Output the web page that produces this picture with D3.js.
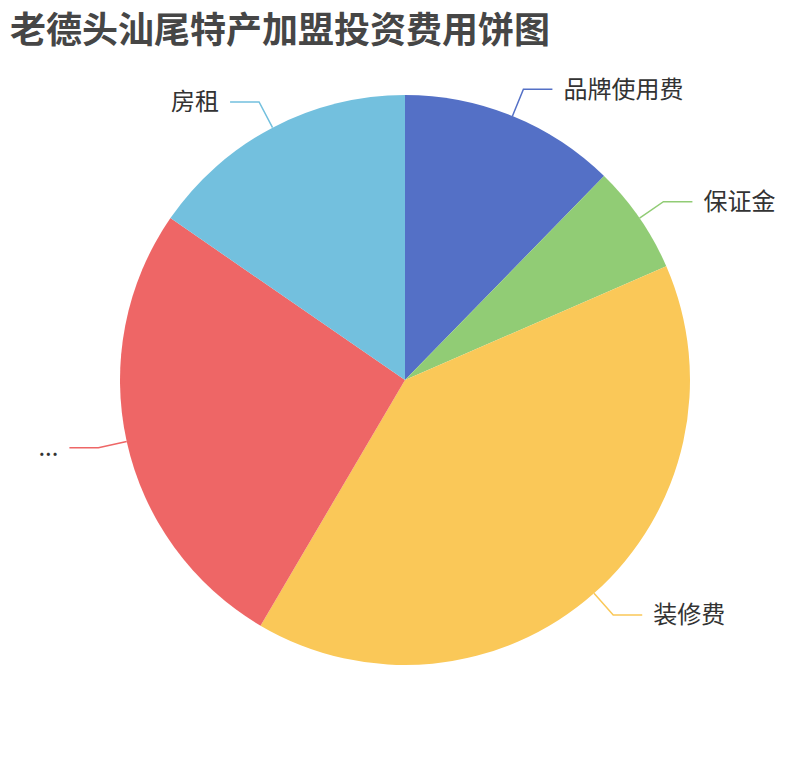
<!DOCTYPE html>
<html>
<head>
<meta charset="utf-8">
<script src="https://cdn.jsdelivr.net/npm/d3@7"></script>
<style>
  body { margin: 0; background: #fff; }
  svg { display: block; font-family: "Noto Sans CJK SC", "Noto Sans", sans-serif; }
</style>
</head>
<body>
<div id="chart"></div>
<script>
// data (share of the pie)
const names = ["品牌使用费", "保证金", "装修费", "...", "房租"];
const values = [4, 2, 13, 8.5, 5];
const colors = ["#5470c6", "#91cc75", "#fac858", "#ee6666", "#73c0de"];

const width = 810, height = 760;
const cx = 405, cy = 380, radius = 285;

const svg = d3.select("#chart")
  .append("svg")
  .attr("width", width)
  .attr("height", height);

svg.append("text")
  .attr("x", 10)
  .attr("y", 43)
  .attr("fill", "#464646")
  .style("font-size", "36px")
  .style("font-weight", "bold")
  .text("老德头汕尾特产加盟投资费用饼图");

const data = names.map((n, i) => ({ name: n, value: values[i], color: colors[i] }));

const pie = d3.pie()
  .sort(null)
  .value(d => d.value);

const arcs = pie(data);

const arc = d3.arc()
  .innerRadius(0)
  .outerRadius(radius);

const g = svg.append("g")
  .attr("transform", `translate(${cx},${cy})`);

g.selectAll("path.slice")
  .data(arcs)
  .enter()
  .append("path")
  .attr("class", "slice")
  .attr("d", arc)
  .attr("fill", d => d.data.color);

// label lines: radial leg then horizontal leg
const len1 = 29, len2 = 29, gap = 11;

arcs.forEach(d => {
  const mid = (d.startAngle + d.endAngle) / 2;
  const sx = Math.sin(mid), sy = -Math.cos(mid);
  const p0 = [sx * radius, sy * radius];
  const p1 = [sx * (radius + len1), sy * (radius + len1)];
  const dir = sx >= 0 ? 1 : -1;
  const p2 = [p1[0] + dir * len2, p1[1]];

  g.append("polyline")
    .attr("points", [p0, p1, p2].map(p => p.join(",")).join(" "))
    .attr("fill", "none")
    .attr("stroke", d.data.color)
    .attr("stroke-width", 1.5);

  g.append("text")
    .attr("x", p2[0] + dir * gap)
    .attr("y", p2[1])
    .attr("dy", "0.35em")
    .attr("text-anchor", dir > 0 ? "start" : "end")
    .attr("fill", "#333")
    .style("font-size", "24px")
    .text(d.data.name);
});
</script>
</body>
</html>
